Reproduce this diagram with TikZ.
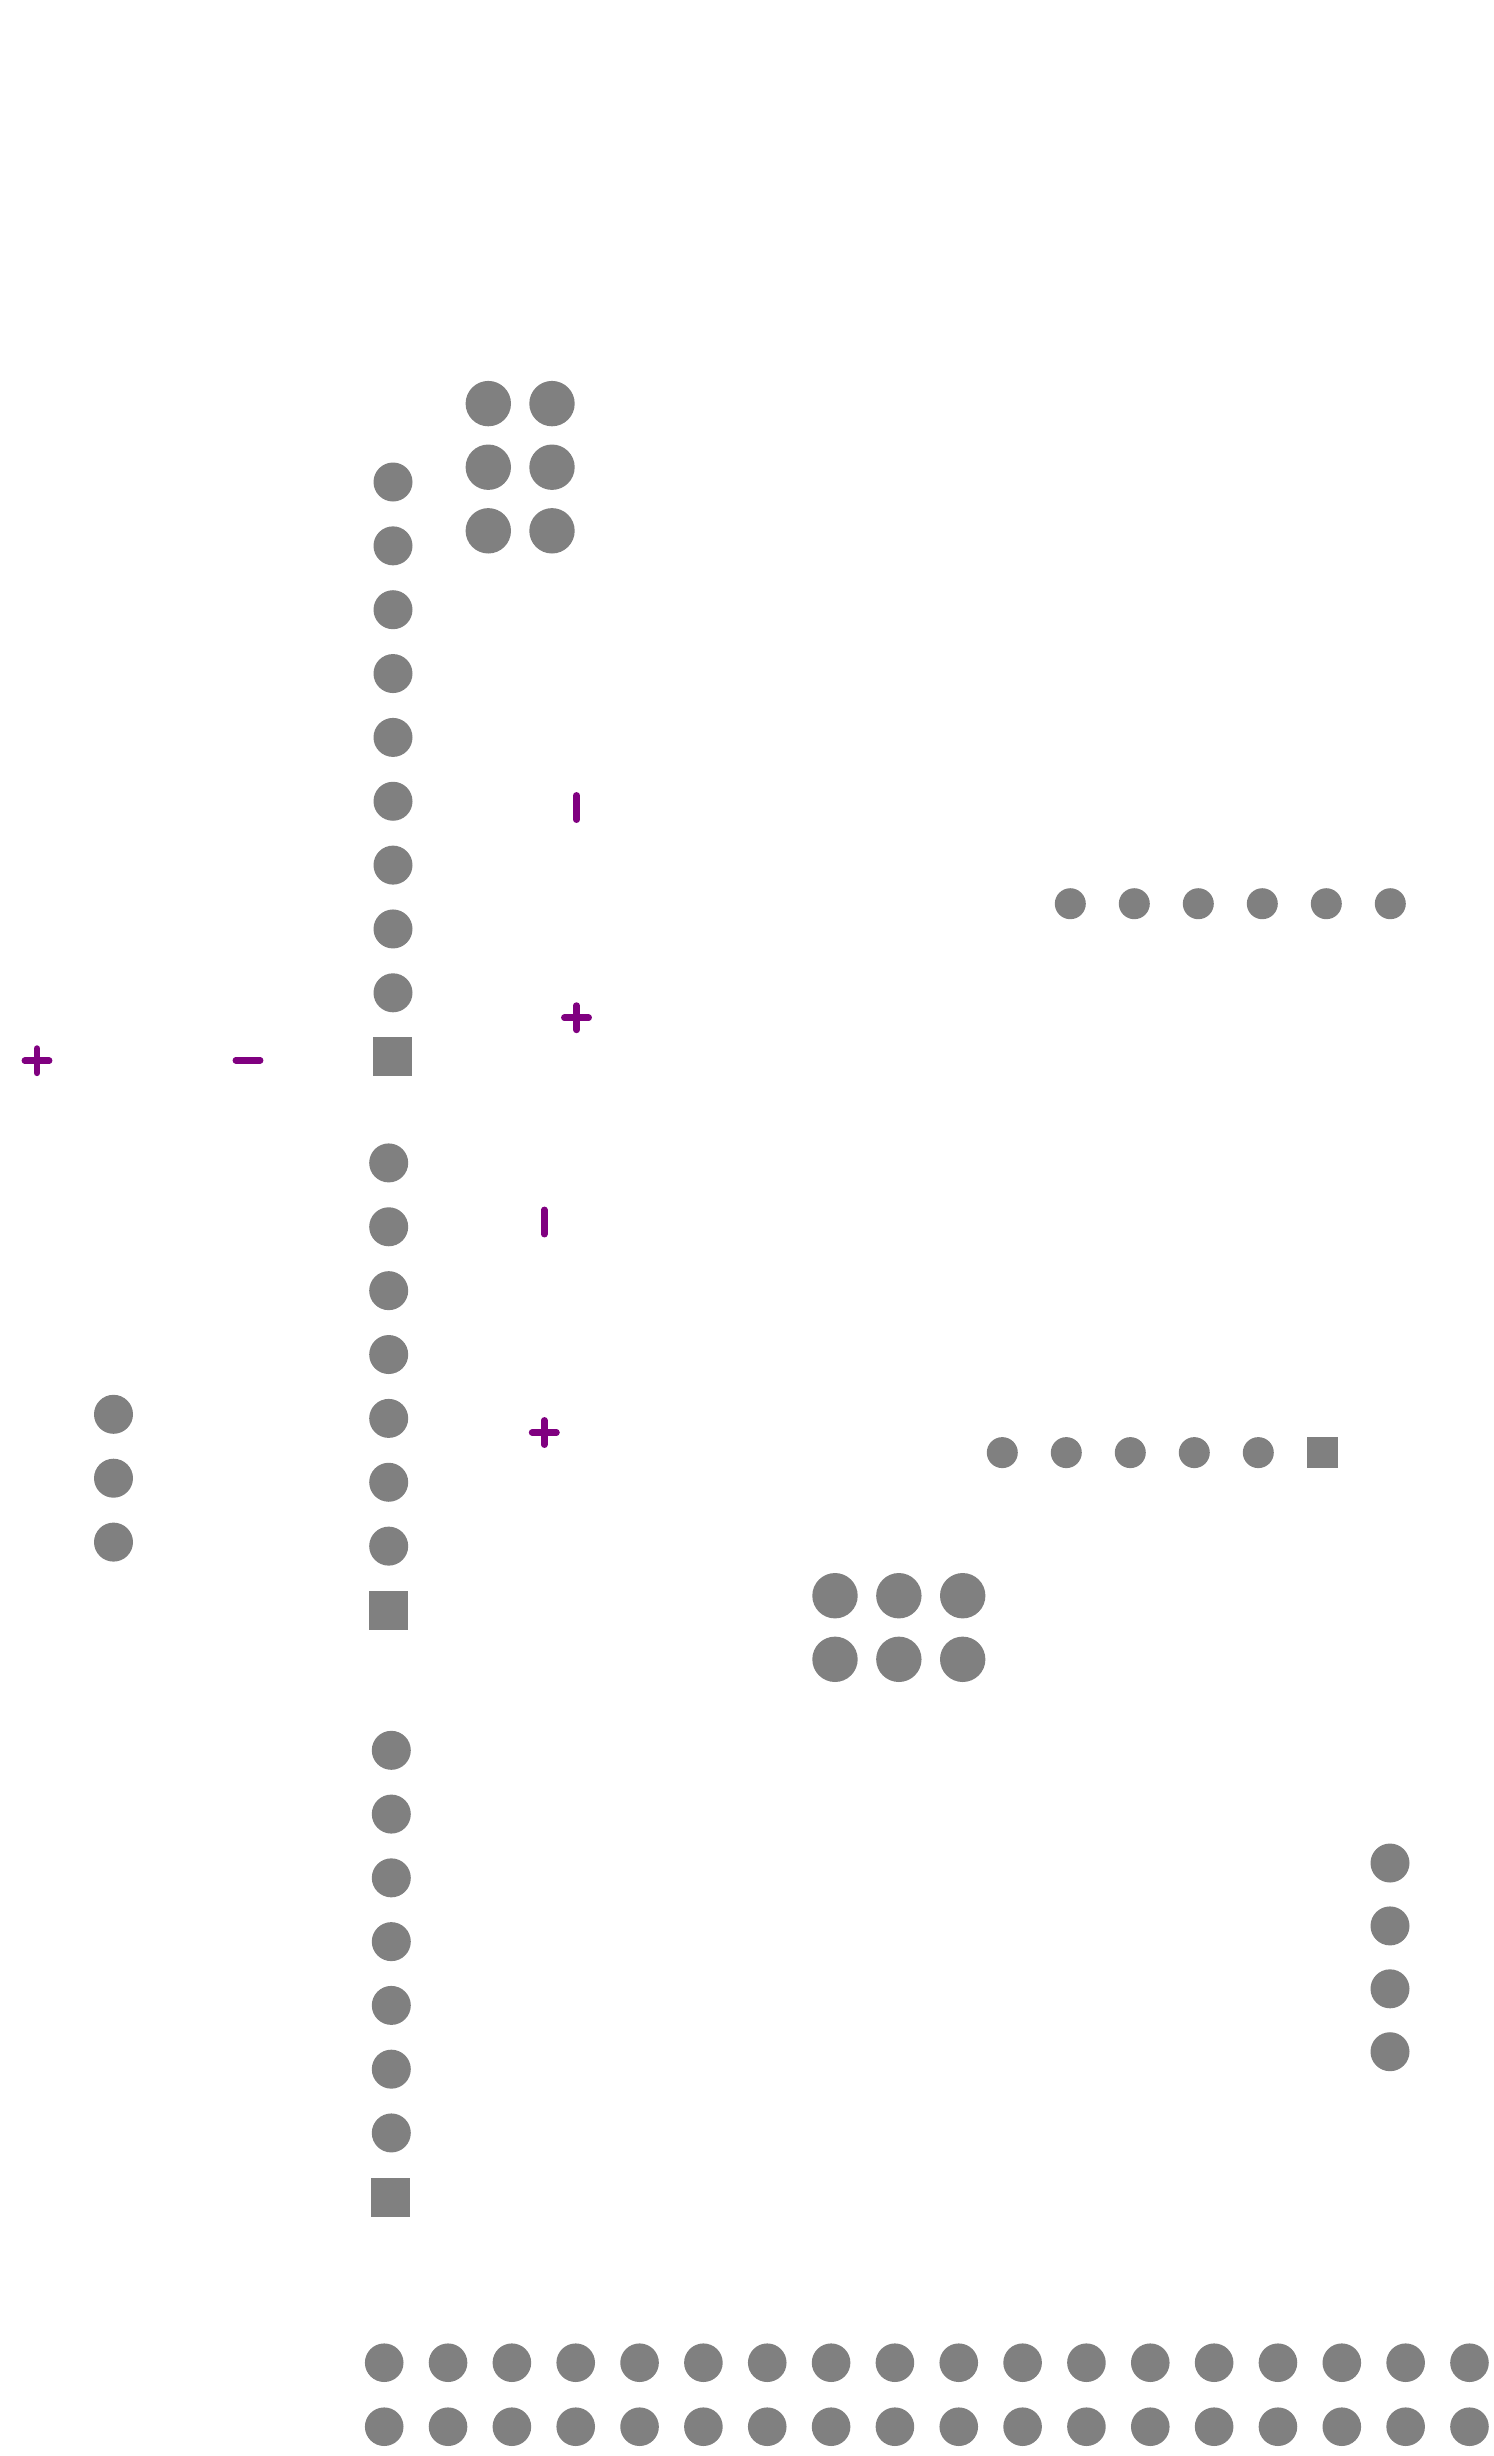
\documentclass[tikz,border=0pt]{standalone}
\usepackage{tikz}
\usetikzlibrary{positioning}
\definecolor{colg}{rgb}{0.5,0.5,0.5}
\definecolor{colp}{rgb}{0.5,0,0.5}

\begin{document}
\begin{tikzpicture}[x=0.1mm,y=-0.1mm]
    \useasboundingbox (0,0) rectangle (1493,2456);
    % long columns
    \foreach \i in {0,...,8} \fill[colg] (393,482+63.85*\i) circle (1.95mm);
    \fill[colg] (373,1036.8) rectangle (412,1075.8);
    \foreach \i in {0,...,6} \fill[colg] (388.7,1162.9+63.87*\i) circle (1.95mm);
    \fill[colg] (369,1590.9) rectangle (408,1629.9);
    \foreach \i in {0,...,6} \fill[colg] (391.3,1750.3+63.77*\i) circle (1.95mm);
    \fill[colg] (371,2177.8) rectangle (410,2216.8);
    % small groups
    \foreach \i in {0,1,2} \fill[colg] (113.5,1414.3+63.9*\i) circle (1.95mm);
    \foreach \i in {0,...,3} \fill[colg] (1390,1863+62.9*\i) circle (1.95mm);
    \foreach \i in {0,1} \foreach \j in {0,1,2}
      \fill[colg] (488.3+63.7*\i,403.6+63.6*\j) circle (2.27mm);
    \foreach \i in {0,1,2} \foreach \j in {0,1}
      \fill[colg] (835+63.85*\i,1595.7+63.6*\j) circle (2.27mm);
    % rows
    \foreach \i in {0,...,5} \fill[colg] (1070.3+64*\i,903.7) circle (1.55mm);
    \foreach \i in {0,...,4} \fill[colg] (1002.3+64*\i,1452.6) circle (1.55mm);
    \fill[colg] (1307,1437) rectangle (1338,1468);
    \foreach \i in {0,...,17} {
      \fill[colg] (384.2+63.84*\i,2362.7) circle (1.93mm);
      \fill[colg] (384.2+63.84*\i,2426.7) circle (1.93mm);
    }
    % charges
    \begin{scope}[colp,line width=0.65mm,line cap=round]
      \draw (24.8,1060.7) -- (49.2,1060.7) (37,1048.5) -- (37,1072.9);
      \draw (235.8,1060.3) -- (260.2,1060.3);
      \draw (576.5,795.3) -- (576.5,819.7);
      \draw (564.3,1017.7) -- (588.7,1017.7) (576.5,1005.5) -- (576.5,1029.9);
      \draw (544.3,1209.8) -- (544.3,1234.2);
      \draw (532.1,1432.5) -- (556.5,1432.5) (544.3,1420.3) -- (544.3,1444.7);
    \end{scope}
\end{tikzpicture}
\end{document}
